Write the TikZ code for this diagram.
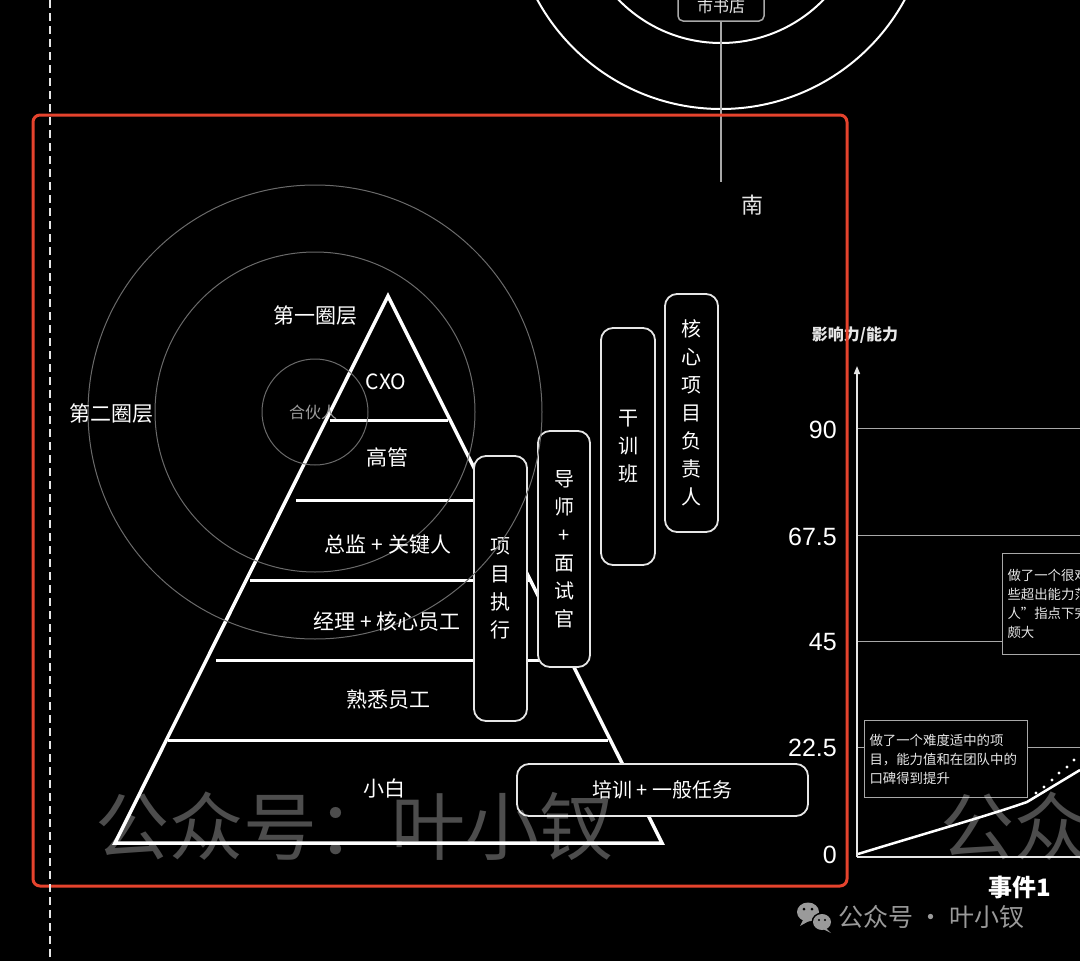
\documentclass[tikz,border=0pt]{standalone}
\usepackage{fontspec}
\setmainfont{Noto Sans CJK SC}
\newfontfamily\lat{Liberation Sans}
\usetikzlibrary{arrows.meta}
\definecolor{redframe}{HTML}{E5432D}
\definecolor{ringgray}{HTML}{6A6A6A}
\definecolor{softwhite}{HTML}{E6E6E6}
\definecolor{linegray}{HTML}{A8A8A8}
\definecolor{wmgray}{HTML}{9A9A9A}
\newcommand\myfs[2]{\fontsize{#1}{#2}\selectfont}
\tikzset{
  pyr/.style={white, line width=3.5pt, line join=miter},
  divider/.style={white, line width=3pt},
  ring/.style={draw=ringgray, line width=1pt},
  topring/.style={draw=white, line width=2pt},
  vbox/.style={draw=softwhite, line width=1.8pt, fill=black, rounded corners=12pt,
    inner sep=0pt, align=center, text=white, font=\myfs{20}{28}},
  plabel/.style={text=white, font=\myfs{21}{21}, inner sep=0pt},
  ticklabel/.style={text=white, font=\lat\myfs{25}{25}, anchor=east, inner sep=0pt},
  grid/.style={draw=linegray, line width=1pt},
  cbox/.style={draw=linegray, line width=1pt, fill=black, anchor=north west,
    align=left, text=softwhite, font=\myfs{13.4}{19}, inner xsep=5pt, inner ysep=0pt}
}
\begin{document}
\begin{tikzpicture}[x=1pt,y=-1pt]
\useasboundingbox (0,0) rectangle (1080,961);
\fill[black] (0,0) rectangle (1080,961);
\begin{scope}
\clip (0,0) rectangle (1080,961);

% ---------- top circles ----------
\coordinate (topc) at (721,-100);
\draw[topring] (topc) circle[radius=209];
\draw[topring] (topc) circle[radius=143];
\node[draw=linegray, line width=1.5pt, rounded corners=5pt, fill=black,
      minimum width=86, minimum height=30, text=softwhite, font=\myfs{16}{16}]
      (shop) at (721,6) {市书店};
\coordinate (southend) at (721,182);
\draw[draw=linegray, line width=1.5pt] (shop.south) -- (southend);
\node[text=softwhite, font=\myfs{22}{22}] (south) at (752,205) {南};

% ---------- pyramid ----------
\coordinate (apex) at (388,296);
\coordinate (bl) at (115,843);
\coordinate (br) at (662,843);
\draw[pyr] (apex) -- (bl) -- (br) -- cycle;
\draw[divider] (330,420) -- (448,420);
\draw[divider] (296,500) -- (489,500);
\draw[divider] (250,580) -- (529,580);
\draw[divider] (216,660) -- (569,660);
\draw[divider] (168,740) -- (608,740);

% ---------- boxes ----------
\node[vbox, minimum width=53, minimum height=265] (proj) at (500.5,588.5) {项\\目\\执\\行};
\node[vbox, minimum width=52, minimum height=236] (mentor) at (564,549) {导\\师\\+\\面\\试\\官};
\node[vbox, minimum width=54, minimum height=237] (gxb) at (628,446.5) {干\\训\\班};
\node[vbox, minimum width=53, minimum height=238] (core) at (691.5,413) {核\\心\\项\\目\\负\\责\\人};
\node[vbox, minimum width=291, minimum height=52] (train) at (662.5,790) {培训 + 一般任务};

% ---------- left rings ----------
\coordinate (ringc) at (315,412);
\draw[ring] (ringc) circle[radius=53];
\draw[ring] (ringc) circle[radius=160];
\draw[ring] (ringc) circle[radius=227];
\node[text=wmgray, font=\myfs{16}{16}] (partner) at (313,412) {合伙人};
\node[plabel] (ring1) at (315,316) {第一圈层};
\node[plabel] (ring2) at (111,414) {第二圈层};

% ---------- pyramid labels ----------
\node[plabel] (cxo) at (386,382) {CXO};
\node[plabel] (gg) at (387,457) {高管};
\node[plabel] (zj) at (388,545) {总监 + 关键人};
\node[plabel] (jl) at (387,622) {经理 + 核心员工};
\node[plabel] (sx) at (388,700) {熟悉员工};
\node[plabel] (xb) at (384,788) {小白};

% ---------- chart ----------
\node[text=softwhite, font=\bfseries\myfs{16}{16}] (ylab) at (855,335) {影响力/能力};
\coordinate (origin) at (857,857);
\coordinate (ytop) at (857,366);
\coordinate (xend) at (1080,857);
\draw[grid] (858,428) -- (1080,428);
\draw[grid] (858,535) -- (1080,535);
\draw[grid] (858,641) -- (1080,641);
\draw[grid] (858,747) -- (1080,747);
\draw[draw=softwhite, line width=1.5pt, -{Triangle[width=6pt,length=8pt]}] (origin) -- (ytop);
\draw[draw=softwhite, line width=1.5pt] (origin) -- (xend);
\node[ticklabel] (t90) at (837,430) {90};
\node[ticklabel] (t675) at (837,537) {67.5};
\node[ticklabel] (t45) at (837,642) {45};
\node[ticklabel] (t225) at (837,748) {22.5};
\node[ticklabel] (t0) at (837,855) {0};

\node[cbox, text width=153, minimum height=77] (ev1) at (864,720)
  {做了一个难度适中的项\\目，能力值和在团队中的\\口碑得到提升};
\node[cbox, text width=110, minimum height=101] (ev2) at (1002,553)
  {做了一个很难的项目，\\些超出能力范围，在“贵\\人”指点下完成，提升\\颇大};

\draw[white, line width=2.5pt, line join=round]
  (858,854) .. controls (930,832) and (990,815) .. (1027,802) -- (1080,770);
\foreach \px/\py in {1036/793,1044/787,1052/780,1059/773,1067/767,1074/760}
  \fill[white] (\px,\py) circle[radius=1.6];

\node[text=white, font=\bfseries\myfs{24}{24}] (event) at (1020,887) {事件1};

% ---------- watermarks ----------
\node[text=white, opacity=0.3, font=\myfs{74}{74}, anchor=west, inner sep=0pt]
  (wm1) at (95,826) {公众号：叶小钗};
\node[text=white, opacity=0.3, font=\myfs{74}{74}, anchor=west, inner sep=0pt]
  (wm2) at (940,826) {公众号：叶小钗};

% wechat icon
\fill[wmgray] (808,912) ellipse[x radius=11, y radius=9.5];
\fill[wmgray] (803,920) -- (800,926) -- (809,921) -- cycle;
\fill[black] (822,922) ellipse[x radius=10.5, y radius=9.5];
\fill[wmgray] (822,922) ellipse[x radius=9, y radius=8];
\fill[wmgray] (826,928) -- (831,933) -- (823,929) -- cycle;
\fill[black] (804,909) circle[radius=1.5];
\fill[black] (812,909) circle[radius=1.5];
\fill[black] (819,920) circle[radius=1.2];
\fill[black] (825,920) circle[radius=1.2];
\node[text=wmgray, font=\myfs{25}{25}, anchor=west, inner sep=0pt] (wm3) at (838,917) {公众号 · 叶小钗};

% ---------- frame and dashed guide ----------
\draw[redframe, line width=3pt, rounded corners=7pt] (33,115) rectangle (847,886);
\draw[softwhite, line width=1.5pt, dash pattern=on 8pt off 5pt] (50,0) -- (50,961);
\end{scope}
\end{tikzpicture}
\end{document}
